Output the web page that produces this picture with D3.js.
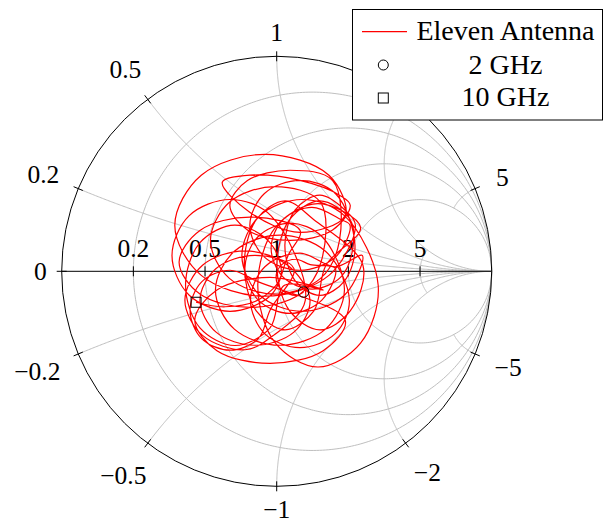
<html>
<script src="https://d3js.org/d3.v7.min.js"></script>
<style>
body{margin:0;background:#fff;}
svg{font-family:"Liberation Serif","Times New Roman",serif;}
</style>
<body>
<svg id="chart" width="604" height="524"></svg>
<script>
// tick values of the smith chart
const resistanceTicks = [0.2, 0.5, 1, 2, 5];
const reactanceTicks = [0, 0.2, 0.5, 1, 2, 5, -0.2, -0.5, -1, -2, -5];
// grid clipping: resistance circles stop at |x|, reactance arcs stop at r
const resistanceGrid = [0.2, 0.5, 1, 2, 5];
const resistanceGridStop = [Infinity, Infinity, Infinity, Infinity, 2];
const reactanceGrid = [0.2, 0.5, 1, 2, 5, -0.2, -0.5, -1, -2, -5];
const reactanceGridStop = [Infinity, Infinity, Infinity, Infinity, 2, Infinity, Infinity, Infinity, Infinity, 2];

const seriesName = 'Eleven Antenna';
const markerNames = ['2 GHz', '10 GHz'];

// reflection coefficient [re, im], 2 GHz -> 10 GHz
const s11 = [
  [.125,-.096],[.090,-.112],[.024,-.087],[-.003,-.028],[.024,.031],[.090,.056],[.156,.031],
  [.272,.014],[.210,-.134],[.062,-.196],[-.086,-.134],[-.148,.014],[-.086,.162],[.062,.224],[.210,.162],
  [.315,-.088],[.227,-.269],[.015,-.344],[-.197,-.269],[-.285,-.088],[-.197,.093],[.015,.168],[.227,.093],
  [.338,-.135],[.271,-.291],[.108,-.355],[-.055,-.291],[-.122,-.135],[-.055,.021],[.108,.085],[.271,.021],
  [.398,.074],[.316,-.110],[.118,-.186],[-.080,-.110],[-.162,.074],[-.080,.258],[.118,.334],[.316,.258],
  [.472,-.065],[.390,-.334],[.192,-.445],[-.006,-.334],[-.088,-.065],[-.006,.204],[.192,.315],[.390,.204],
  [.229,.028],[.173,-.184],[.039,-.272],[-.095,-.184],[-.151,.028],[-.095,.240],[.039,.328],[.173,.240],
  [.401,.028],[.342,-.184],[.201,-.272],[.060,-.184],[.001,.028],[.060,.240],[.201,.328],[.342,.240],
  [.354,.107],[.298,-.027],[.164,-.083],[.030,-.027],[-.026,.107],[.030,.241],[.164,.297],[.298,.241],
  [.341,.214],[.273,.066],[.108,.005],[-.057,.066],[-.125,.214],[-.057,.362],[.108,.423],[.273,.362],
  [.364,.121],[.316,-.044],[.201,-.112],[.086,-.044],[.038,.121],[.086,.286],[.201,.354],[.316,.286],
  [.366,.214],[.243,-.019],[-.054,-.116],[-.351,-.019],[-.474,.214],[-.351,.447],[-.054,.544],[.243,.447],
  [.318,.260],[.108,.181],[-.124,.274],[-.253,.414],[-.124,.447],[.108,.423],[.294,.353],
  [.342,.307],[.260,.192],[.062,.144],[-.136,.192],[-.218,.307],[-.136,.422],[.062,.470],[.260,.422],
  [.292,.144],[.204,-.033],[-.008,-.106],[-.220,-.033],[-.308,.144],[-.220,.321],[-.008,.394],[.204,.321],
  [.206,.042],[.109,-.106],[-.124,-.168],[-.357,-.106],[-.454,.042],[-.357,.190],[-.124,.252],[.109,.190],
  [.053,.074],[-.026,-.110],[-.217,-.186],[-.408,-.110],[-.487,.074],[-.408,.258],[-.217,.334],[-.026,.258],
  [.133,-.135],[-.015,-.298],[-.147,-.365],[-.345,-.298],[-.427,-.135],[-.345,.028],[-.147,.095],[.051,.028],
  [.155,-.135],[.080,-.283],[-.101,-.344],[-.282,-.283],[-.357,-.135],[-.282,.013],[-.101,.074],[.080,.013],
  [-.031,-.181],[-.085,-.313],[-.217,-.367],[-.349,-.313],[-.403,-.181],[-.349,-.049],[-.217,.005],[-.085,-.049],
  [.319,-.228],[.216,-.369],[-.031,-.428],[-.278,-.369],[-.381,-.228],[-.278,-.087],[-.031,-.028],[.216,-.087],
  [.036,-.065],[-.031,-.263],[-.194,-.345],[-.357,-.263],[-.424,-.065],[-.357,.133],[-.194,.215],[-.031,.133],
  [.02,-.02],[-.08,-.13],[-.24,-.165],[-.375,-.144]
];

const cx = 276.7, cy = 271.3, R = 215;
const gx = d3.scaleLinear().domain([-1, 1]).range([cx - R, cx + R]);
const gy = d3.scaleLinear().domain([-1, 1]).range([cy + R, cy - R]);

// z = r + jx  ->  gamma
function gamma(r, x){
  const d = (r + 1) * (r + 1) + x * x;
  return [(r * r - 1 + x * x) / d, 2 * x / d];
}
const line = d3.line().x(d => gx(d[0])).y(d => gy(d[1]));
const smooth = d3.line().x(d => gx(d[0])).y(d => gy(d[1])).curve(d3.curveCatmullRom.alpha(0.5));

const svg = d3.select('#chart');
const grid = svg.append('g').attr('fill', 'none').attr('stroke', '#bfbfbf').attr('stroke-width', 1);

resistanceGrid.forEach((r, i) => {
  const lim = Math.atan(resistanceGridStop[i]) - 1e-7;
  const pts = d3.range(0, 401).map(k => gamma(r, Math.tan(-lim + 2 * lim * k / 400)));
  grid.append('path').attr('d', line(pts));
});
reactanceGrid.forEach((x, i) => {
  const lim = Math.atan(reactanceGridStop[i]) - 1e-7;
  const pts = d3.range(0, 401).map(k => gamma(Math.tan(lim * k / 400), x));
  grid.append('path').attr('d', line(pts));
});

const axis = svg.append('g').attr('stroke', '#000').attr('stroke-width', 1).attr('fill', 'none');
axis.append('circle').attr('cx', gx(0)).attr('cy', gy(0)).attr('r', gx(1) - gx(0));
axis.append('line').attr('x1', gx(-1)).attr('x2', gx(1)).attr('y1', gy(0)).attr('y2', gy(0));

// ticks on the real axis
resistanceTicks.forEach(r => {
  const g = gamma(r, 0);
  axis.append('line').attr('x1', gx(g[0])).attr('x2', gx(g[0]))
    .attr('y1', gy(0) - 5).attr('y2', gy(0) + 5);
});
// ticks on the rim
reactanceTicks.forEach(v => {
  const g = gamma(0, v);
  const th = Math.atan2(g[1], g[0]);
  const ux = Math.cos(th), uy = -Math.sin(th);
  axis.append('line')
    .attr('x1', cx + ux * (R - 5)).attr('y1', cy + uy * (R - 5))
    .attr('x2', cx + ux * (R + 5)).attr('y2', cy + uy * (R + 5));
});

const fmt = v => (v < 0 ? '\u2212' : '') + Math.abs(v);
const labels = svg.append('g').attr('font-size', 25.5).attr('fill', '#000').attr('text-anchor', 'middle');

resistanceTicks.forEach(r => {
  const g = gamma(r, 0);
  labels.append('text').attr('x', gx(g[0])).attr('y', gy(0) - 14).text(fmt(r));
});
reactanceTicks.forEach(v => {
  const g = gamma(0, v);
  const th = Math.atan2(g[1], g[0]);
  const ux = Math.cos(th), uy = -Math.sin(th);
  const t = labels.append('text').text(fmt(v));
  const w = t.node().getBBox().width, h = 17, p = 4;
  const gap = 11 + 11 * Math.abs(Math.sin(2 * th));
  const d = R + gap + Math.hypot(ux * (w / 2 + p), uy * (h / 2 + p));
  t.attr('x', cx + ux * d).attr('y', cy + uy * d + h / 2);
});

// the measured curve
svg.append('path').attr('d', smooth(s11))
  .attr('fill', 'none').attr('stroke', '#ff0000').attr('stroke-width', 1.2);

const first = s11[0], last = s11[s11.length - 1];
svg.append('circle').attr('cx', gx(first[0])).attr('cy', gy(first[1])).attr('r', 5.3)
  .attr('fill', 'none').attr('stroke', '#000').attr('stroke-width', 1);
svg.append('rect').attr('x', gx(last[0]) - 5).attr('y', gy(last[1]) - 5).attr('width', 10).attr('height', 10)
  .attr('fill', 'none').attr('stroke', '#000').attr('stroke-width', 1);

// legend
const lg = svg.append('g');
lg.append('rect').attr('x', 352.5).attr('y', 9.5).attr('width', 250).attr('height', 110.5)
  .attr('fill', '#fff').attr('stroke', '#000').attr('stroke-width', 1);
lg.append('line').attr('x1', 362).attr('x2', 407).attr('y1', 31.7).attr('y2', 31.7)
  .attr('stroke', '#ff0000').attr('stroke-width', 1.2);
lg.append('circle').attr('cx', 383.3).attr('cy', 65).attr('r', 5)
  .attr('fill', 'none').attr('stroke', '#000');
lg.append('rect').attr('x', 378.3).attr('y', 93).attr('width', 10).attr('height', 10)
  .attr('fill', 'none').attr('stroke', '#000');
const lt = lg.append('g').attr('font-size', 28).attr('text-anchor', 'middle');
lt.append('text').attr('x', 505.5).attr('y', 40).text(seriesName);
lt.append('text').attr('x', 505.5).attr('y', 73.5).text(markerNames[0]);
lt.append('text').attr('x', 505.5).attr('y', 106).text(markerNames[1]);
</script>
</body>
</html>
